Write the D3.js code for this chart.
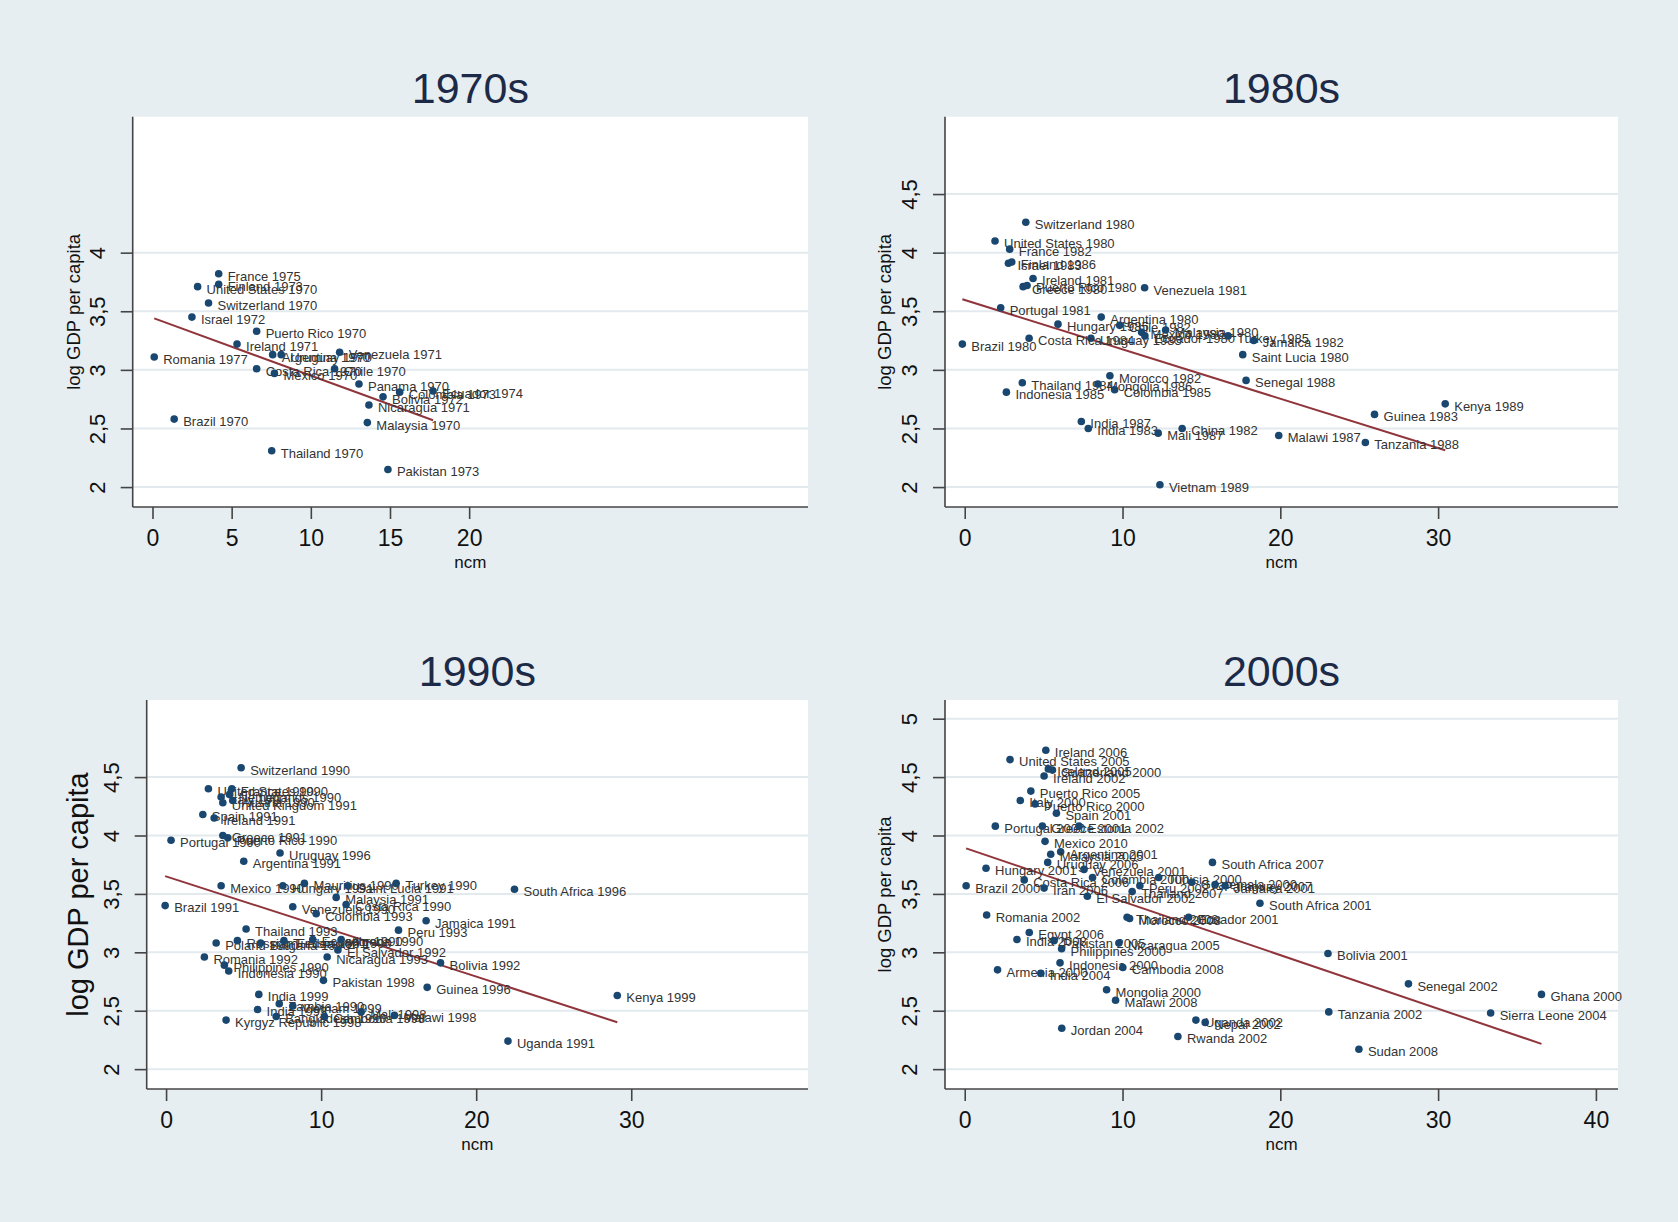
<!DOCTYPE html>
<meta charset="utf-8">
<style>
body { margin: 0; background: #e6eef1; }
svg { display: block; font-family: "Liberation Sans", Arial, sans-serif; }
.plotbg { fill: #fff; }
.grid line { stroke: #e2eaee; stroke-width: 2px; }
.axis path, .axis line { stroke: #444; stroke-width: 1.6px; }
.axis text { fill: #111; }
.fit { fill: none; stroke: #90353b; stroke-width: 2px; }
.dot { fill: #1a476f; }
.lbl { fill: #333; font-size: 13px; }
.title { fill: #1d2a47; font-size: 43px; }
.ytitle, .xtitle { fill: #111; }
</style>
<svg width="1678" height="1222"></svg>
<script src="https://d3js.org/d3.v7.min.js"></script>
<script>
var decades = ["1970s", "1980s", "1990s", "2000s"];

var names70 = ["France 1975","Finland 1973","United States 1970","Switzerland 1970","Israel 1972","Puerto Rico 1970","Ireland 1971","Romania 1977","Argentina 1970","Uruguay 1970","Venezuela 1971","Costa Rica 1970","Mexico 1970","Chile 1970","Panama 1970","Colombia 1973","Ecuador 1974","Bolivia 1972","Nicaragua 1971","Malaysia 1970","Brazil 1970","Thailand 1970","Pakistan 1973"];
var ncm70 = [4.18,4.18,2.85,3.54,2.49,6.58,5.34,0.11,7.59,8.13,11.82,6.58,7.70,11.50,13.04,15.61,17.72,14.56,13.67,13.57,1.37,7.53,14.87];
var gdp70 = [3.82,3.73,3.71,3.57,3.45,3.33,3.22,3.11,3.13,3.13,3.15,3.01,2.97,3.01,2.88,2.81,2.82,2.77,2.70,2.55,2.58,2.31,2.15];

var names80 = ["Switzerland 1980","United States 1980","France 1982","Israel 1983","Finland 1986","Ireland 1981","Greece 1980","Puerto Rico 1980","Venezuela 1981","Portugal 1981","Argentina 1980","Hungary 1985","Chile 1982","Uruguay 1985","Mexico 1980","Ecuador 1980","Malaysia 1980","Turkey 1985","Jamaica 1982","Costa Rica 1984","Brazil 1980","Saint Lucia 1980","Morocco 1982","Thailand 1984","Mongolia 1986","Colombia 1985","Indonesia 1985","Senegal 1988","India 1987","India 1983","Mali 1987","China 1982","Malawi 1987","Vietnam 1989","Guinea 1983","Kenya 1989","Tanzania 1988"];
var ncm80 = [3.87,1.92,2.85,2.77,2.98,4.33,3.70,3.95,11.40,2.28,8.65,5.91,9.82,8.0,11.21,11.42,12.73,16.69,18.32,4.08,-0.15,17.62,9.20,3.65,8.44,9.50,2.64,17.83,7.39,7.83,12.26,13.78,19.90,12.37,25.97,30.45,25.39];
var gdp80 = [4.26,4.10,4.03,3.91,3.92,3.78,3.71,3.72,3.70,3.53,3.45,3.39,3.38,3.27,3.32,3.29,3.34,3.29,3.25,3.27,3.22,3.13,2.95,2.89,2.88,2.83,2.81,2.91,2.56,2.50,2.46,2.50,2.44,2.02,2.62,2.71,2.38];

var names90 = ["Switzerland 1990","United States 1990","France 1990","Italy 1990","United Kingdom 1991","Austria 1990","Netherlands 1990","Spain 1991","Ireland 1991","Portugal 1990","Greece 1991","Puerto Rico 1990","Uruguay 1996","Argentina 1991","Mexico 1990","Hungary 1991","Mauritius 1990","Saint Lucia 1991","Turkey 1990","South Africa 1996","Malaysia 1991","Brazil 1991","Venezuela 1990","Costa Rica 1990","Colombia 1993","Jamaica 1991","Thailand 1993","Peru 1993","Poland 1990","Russian Federation 1990","Bulgaria 1990","Tunisia 1991","Ecuador 1990","Algeria 1990","El Salvador 1992","Romania 1992","Philippines 1990","Indonesia 1990","Nicaragua 1993","Bolivia 1992","Pakistan 1998","Guinea 1996","India 1999","Kenya 1999","India 1993","Zambia 1990","Vietnam 1999","Bangladesh 1990","Cambodia 1998","Mali 1998","Malawi 1998","Kyrgyz Republic 1998","Uganda 1991"];
var ncm90 = [4.84,2.73,4.24,3.55,3.66,4.30,4.09,2.37,3.10,0.32,3.66,3.98,7.35,5.01,3.55,7.53,8.92,11.72,14.84,22.47,10.97,-0.06,8.17,11.61,9.68,16.77,5.16,14.99,3.23,4.60,6.10,7.60,9.46,11.29,11.08,2.47,3.76,4.04,10.39,17.70,10.15,16.84,5.98,29.10,5.90,7.30,8.17,7.10,10.21,12.58,14.73,3.87,22.05];
var gdp90 = [4.58,4.40,4.40,4.33,4.28,4.30,4.35,4.18,4.15,3.96,4.00,3.98,3.85,3.78,3.57,3.57,3.59,3.57,3.59,3.54,3.47,3.40,3.39,3.41,3.33,3.27,3.20,3.19,3.08,3.10,3.08,3.10,3.11,3.11,3.02,2.96,2.89,2.84,2.96,2.91,2.76,2.70,2.64,2.63,2.51,2.56,2.54,2.45,2.45,2.49,2.46,2.42,2.24];

var names00 = ["Ireland 2006","United States 2005","Iceland 2005","Switzerland 2000","Ireland 2002","Puerto Rico 2005","Italy 2000","Puerto Rico 2000","Spain 2001","Portugal 2000","Greece 2001","Estonia 2002","Mexico 2010","Argentina 2001","Malaysia 2005","Uruguay 2006","Hungary 2001","Venezuela 2001","South Africa 2007","Brazil 2000","Costa Rica 2006","Iran 2006","Colombia 2000","Peru 2002","Tunisia 2000","Guatemala 2000","Paraguay 2007","Jamaica 2001","Thailand 2007","El Salvador 2002","South Africa 2001","Romania 2002","Thailand 2008","Morocco 2008","Ecuador 2001","Egypt 2006","India 2008","Pakistan 2005","Philippines 2000","Nicaragua 2005","Armenia 2000","India 2004","Indonesia 2000","Cambodia 2008","Mongolia 2000","Malawi 2008","Jordan 2004","Uganda 2002","Nepal 2002","Rwanda 2002","Bolivia 2001","Senegal 2002","Ghana 2000","Tanzania 2002","Sierra Leone 2004","Sudan 2008"];
var ncm00 = [5.14,2.87,5.30,5.56,5.03,4.19,3.52,4.46,5.81,1.94,4.92,7.24,5.09,6.08,5.45,5.26,1.35,7.56,15.70,0.09,3.77,5.03,8.10,11.10,12.29,14.39,15.87,16.50,10.61,7.77,18.71,1.39,10.29,10.45,14.19,4.09,3.31,5.66,6.14,9.77,2.08,4.82,6.04,10.02,8.99,9.56,6.15,14.65,15.24,13.51,23.02,28.12,36.55,23.07,33.33,24.98];
var gdp00 = [4.73,4.65,4.57,4.56,4.51,4.38,4.30,4.27,4.19,4.08,4.08,4.08,3.95,3.86,3.84,3.77,3.72,3.71,3.77,3.57,3.62,3.55,3.64,3.57,3.64,3.60,3.58,3.57,3.52,3.48,3.42,3.32,3.30,3.29,3.30,3.17,3.11,3.10,3.03,3.08,2.85,2.82,2.91,2.87,2.68,2.59,2.35,2.42,2.40,2.28,2.99,2.73,2.64,2.49,2.48,2.17];

// linear fit: intercept and slope per decade
var fitIntercept = [3.445, 3.596, 3.65, 3.894];
var fitSlope = [-0.0494, -0.0421, -0.0429, -0.0459];

var xTicks = [[0, 5, 10, 15, 20], [0, 10, 20, 30], [0, 10, 20, 30], [0, 10, 20, 30, 40]];
var yTicks = [[2, 2.5, 3, 3.5, 4], [2, 2.5, 3, 3.5, 4, 4.5], [2, 2.5, 3, 3.5, 4, 4.5], [2, 2.5, 3, 3.5, 4, 4.5, 5]];

var allNames = [names70, names80, names90, names00];
var allNcm = [ncm70, ncm80, ncm90, ncm00];
var allGdp = [gdp70, gdp80, gdp90, gdp00];

var boxes = [
  {l: 132.7, t: 116.7, r: 808, b: 507, yt: 18.5, yo: 53},
  {l: 945, t: 116.7, r: 1618, b: 507, yt: 18.5, yo: 54},
  {l: 146.7, t: 700, r: 808, b: 1089, yt: 29, yo: 58.7},
  {l: 945, t: 700, r: 1618, b: 1089, yt: 18.5, yo: 54}
];

var svg = d3.select("svg");
svg.append("rect").attr("width", 1678).attr("height", 1222).attr("fill", "#e6eef1");

var fmt = function(d) { return String(d).replace(".", ","); };

decades.forEach(function(dec, i) {
  var b = boxes[i];
  var x = d3.scaleLinear().domain([-1.25, 41.4]).range([b.l, b.r]);
  var y = d3.scaleLinear().domain([1.83, 5.16]).range([b.b, b.t]);
  var g = svg.append("g");

  g.append("rect").attr("class", "plotbg")
    .attr("x", b.l).attr("y", b.t).attr("width", b.r - b.l).attr("height", b.b - b.t);

  g.append("g").attr("class", "grid")
    .selectAll("line").data(yTicks[i]).enter().append("line")
    .attr("x1", b.l).attr("x2", b.r)
    .attr("y1", function(d) { return y(d); }).attr("y2", function(d) { return y(d); });

  // y axis, labels turned to read upward
  var ya = g.append("g").attr("class", "axis")
    .attr("transform", "translate(" + b.l + ",0)")
    .call(d3.axisLeft(y).tickValues(yTicks[i]).tickSize(12).tickSizeOuter(0).tickFormat(fmt));
  ya.select(".domain").attr("d", "M0," + b.t + "V" + b.b);
  ya.selectAll("text")
    .attr("x", null).attr("dy", "0.36em")
    .attr("text-anchor", "middle")
    .style("font-size", "22px")
    .attr("transform", "translate(-35.5,0) rotate(-90)");

  var xa = g.append("g").attr("class", "axis")
    .attr("transform", "translate(0," + b.b + ")")
    .call(d3.axisBottom(x).tickValues(xTicks[i]).tickSize(12).tickPadding(11).tickSizeOuter(0));
  xa.select(".domain").attr("d", "M" + b.l + ",0H" + b.r);
  xa.selectAll("text").style("font-size", "23px");

  g.append("text").attr("class", "title")
    .attr("x", (b.l + b.r) / 2).attr("y", b.t - 14)
    .attr("text-anchor", "middle").text(dec);

  g.append("text").attr("class", "xtitle")
    .attr("x", (b.l + b.r) / 2).attr("y", b.b + 61)
    .attr("text-anchor", "middle").style("font-size", "17px").text("ncm");

  g.append("text").attr("class", "ytitle")
    .attr("transform", "translate(" + (b.l - b.yo) + "," + ((b.t + b.b) / 2) + ") rotate(-90)")
    .attr("text-anchor", "middle").style("font-size", b.yt + "px")
    .text("log GDP per capita");

  var pts = allNames[i].map(function(n, k) { return {name: n, ncm: allNcm[i][k], gdp: allGdp[i][k]}; });
  var ext = d3.extent(pts, function(d) { return d.ncm; });
  var line = d3.line().x(function(d) { return x(d); })
    .y(function(d) { return y(fitIntercept[i] + fitSlope[i] * d); });

  g.append("path").attr("class", "fit").attr("d", line(ext));

  var node = g.selectAll(".pt").data(pts).enter().append("g")
    .attr("transform", function(d) { return "translate(" + x(d.ncm) + "," + y(d.gdp) + ")"; });
  node.append("circle").attr("class", "dot").attr("r", 3.8);
  node.append("text").attr("class", "lbl").attr("x", 9).attr("dy", "0.53em").text(function(d) { return d.name; });
});
</script>
